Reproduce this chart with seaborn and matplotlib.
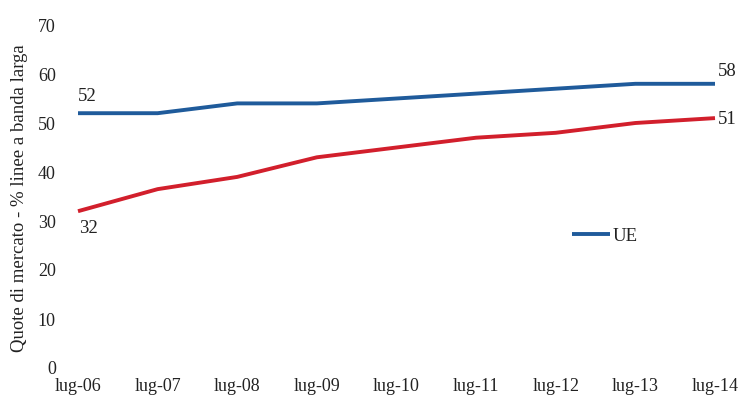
import matplotlib
matplotlib.use("Agg")
import matplotlib.pyplot as plt
import pandas as pd
import seaborn as sns

# Broadband market share, July of each year
periods = ["lug-06", "lug-07", "lug-08", "lug-09", "lug-10",
           "lug-11", "lug-12", "lug-13", "lug-14"]
ue_values = [52, 52, 54, 54, 55, 56, 57, 58, 58]
italia_values = [32, 36.5, 39, 43, 45, 47, 48, 50, 51]
y_ticks = [0, 10, 20, 30, 40, 50, 60, 70]

colors = {"UE": "#1f5b9b", "Italia": "#d21f2c"}

df = pd.DataFrame({
    "periodo": list(range(len(periods))) * 2,
    "quota": ue_values + italia_values,
    "area": ["UE"] * len(periods) + ["Italia"] * len(periods),
})

sns.set_theme(style="white")
plt.rcParams["font.family"] = ["Liberation Serif", "DejaVu Serif"]

FS = 13.5
TICK_FS = 13
TXT = "#222222"
W, H = 743, 398
fig = plt.figure(figsize=(W / 100, H / 100), dpi=100)
ax = fig.add_axes([78 / W, 1 - 368 / H, (715 - 78) / W, (368 - 25) / H])

sns.lineplot(data=df, x="periodo", y="quota", hue="area", palette=colors,
             hue_order=["UE", "Italia"], linewidth=2.8, legend=False, ax=ax)
for ln in ax.lines:
    ln.set_clip_on(False)
    ln.set_solid_capstyle("butt")

ax.set_xlim(0, len(periods) - 1)
ax.set_ylim(0, 70)
ax.set_xticks(range(len(periods)))
ax.set_xticklabels(periods)
ax.set_yticks(y_ticks)
ax.tick_params(axis="both", length=0, labelsize=TICK_FS, colors=TXT)
ax.tick_params(axis="y", pad=16)
ax.tick_params(axis="x", pad=7)
ax.set_xlabel("")
ax.set_ylabel("Quote di mercato - % linee a banda larga", fontsize=FS, color=TXT)
ax.yaxis.set_label_coords(-(78 - 28) / (715 - 78), 0.5 - 2 / 343)
for s in ax.spines.values():
    s.set_visible(False)
ax.grid(False)

# End-point value labels
lab = dict(fontsize=FS, color=TXT)
ax.annotate(f"{ue_values[0]:g}", (0, ue_values[0]), xytext=(0, 6),
            textcoords="offset points", ha="left", va="bottom", **lab)
ax.annotate(f"{italia_values[0]:g}", (0, italia_values[0]), xytext=(1, -6),
            textcoords="offset points", ha="left", va="top", **lab)
ax.annotate(f"{ue_values[-1]:g}", (len(periods) - 1, ue_values[-1]), xytext=(2, 3),
            textcoords="offset points", ha="left", va="bottom", **lab)
ax.annotate(f"{italia_values[-1]:g}", (len(periods) - 1, italia_values[-1]), xytext=(2, -1),
            textcoords="offset points", ha="left", va="center", **lab)

leg = fig.legend(handles=[ax.lines[0]], labels=["UE"], loc="center left",
                 bbox_to_anchor=(572 / W, 1 - 236 / H), frameon=False,
                 fontsize=FS, handlelength=2.0, handletextpad=0.15,
                 borderpad=0, borderaxespad=0)
for t in leg.get_texts():
    t.set_color(TXT)

fig.savefig("out.png", dpi=100, facecolor="white")
